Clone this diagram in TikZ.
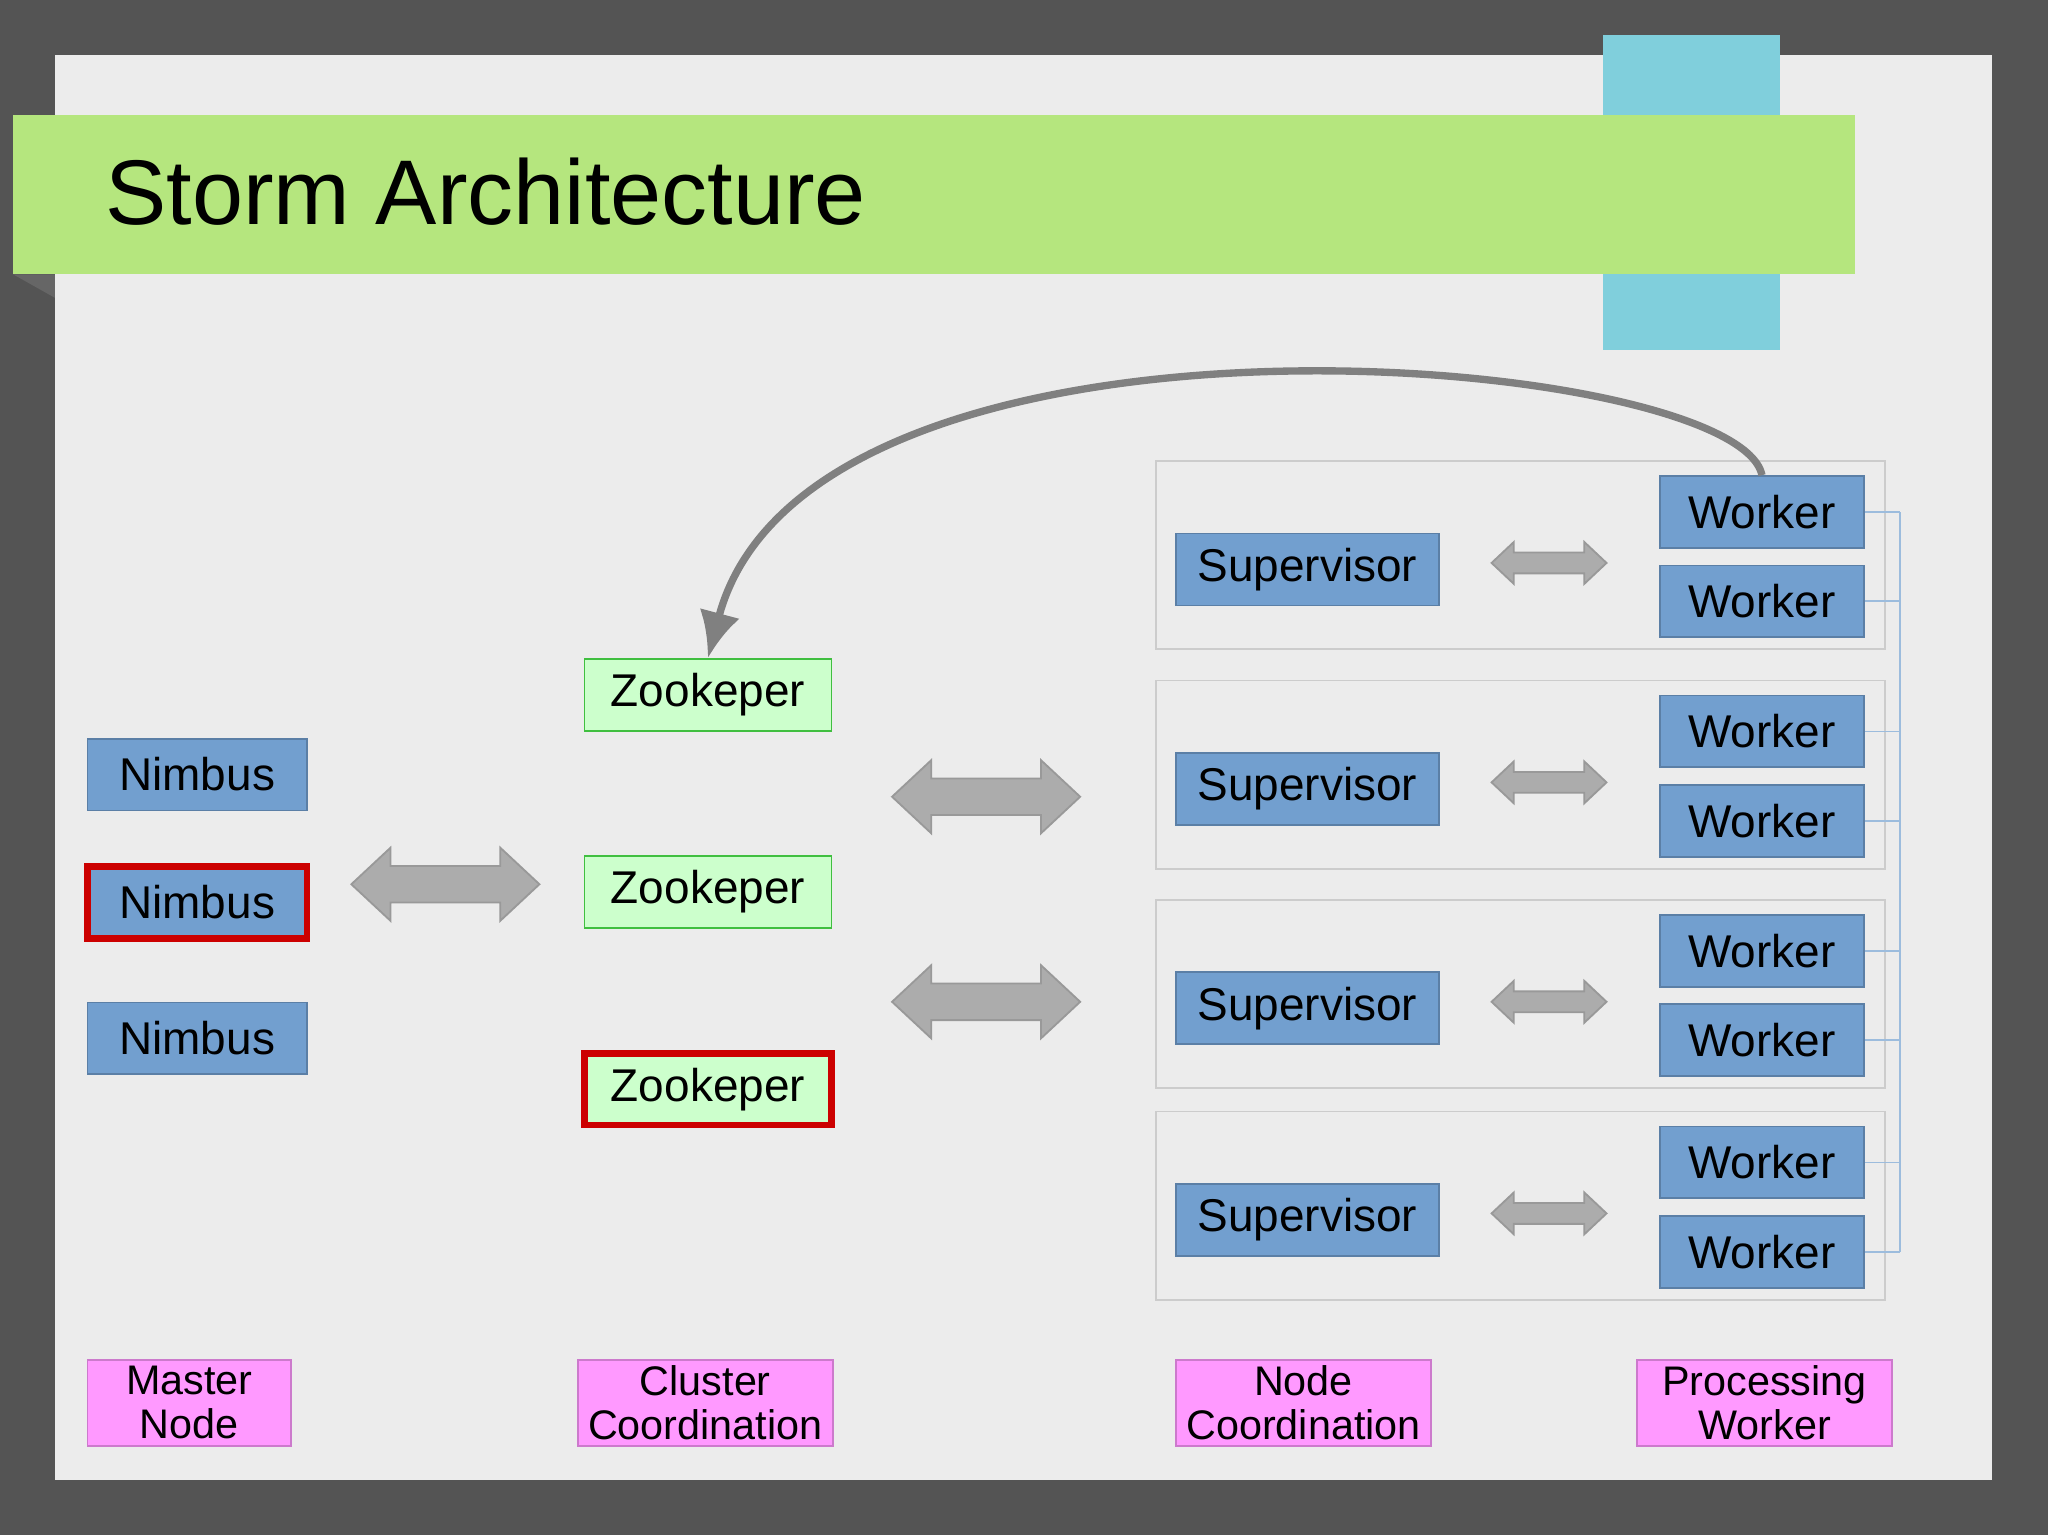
\documentclass[tikz,border=0pt]{standalone}
\usepackage{fontspec}
\setmainfont{Liberation Sans}
\usetikzlibrary{positioning,arrows.meta}
\definecolor{slidebg}{HTML}{ECECEC}
\definecolor{boxblue}{HTML}{729FCF}
\definecolor{zoogreen}{HTML}{CCFFCC}
\definecolor{legpink}{HTML}{FF99FF}
\definecolor{banner}{HTML}{B5E67E}
\definecolor{tab}{HTML}{80CFDC}
% #1 x, #2 y, #3 half length, #4 half height, #5 head length
\newcommand\dblarrow[5]{%
  \filldraw[arrow body] ({#1-#3},#2) -- ({#1-#3+#5},{#2-#4}) -- ({#1-#3+#5},{#2-0.5*#4})
    -- ({#1+#3-#5},{#2-0.5*#4}) -- ({#1+#3-#5},{#2-#4}) -- ({#1+#3},#2)
    -- ({#1+#3-#5},{#2+#4}) -- ({#1+#3-#5},{#2+0.5*#4}) -- ({#1-#3+#5},{#2+0.5*#4})
    -- ({#1-#3+#5},{#2+#4}) -- cycle;}
\begin{document}
\begin{tikzpicture}[x=0.01cm, y=-0.01cm,
  blue box/.style={draw=boxblue!80!black, fill=boxblue, minimum height=0.55cm, inner sep=0pt, font=\fontsize{10}{12}\selectfont},
  zoo/.style={draw=green!50!gray, fill=zoogreen, minimum width=1.89cm, minimum height=0.55cm, inner sep=0pt, font=\fontsize{10}{12}\selectfont},
  leader/.style={draw=red!80!black, line width=1.4pt},
  legend/.style={draw=legpink!80!black, fill=legpink, minimum height=0.66cm, inner sep=0pt, align=center, font=\fontsize{9}{9.5}\selectfont},
  arrow body/.style={draw=gray!80, fill=gray!65},
  group/.style={draw=gray!40, minimum width=5.58cm, minimum height=1.44cm, inner sep=0pt}
]
  % slide
  \fill[black!67] (0,0) rectangle (1568,1175);
  \fill[slidebg] (42,42) rectangle (1525,1133);
  \fill[tab] (1227,27) rectangle (1363,268);
  \fill[black!60] (10,210) -- (42,210) -- (42,228) -- cycle;
  \fill[banner] (10,88) rectangle (1420,210);
  \node[anchor=west, inner sep=0pt, font=\fontsize{20}{24}\selectfont] (title) at (80,147) {Storm Architecture};

  % master nodes
  \node[blue box, minimum width=1.68cm] (n1) at (151,593) {Nimbus};
  \node[blue box, leader, minimum width=1.68cm] (n2) at (151,691) {Nimbus};
  \node[blue box, minimum width=1.68cm] (n3) at (151,795) {Nimbus};

  % zookeeper
  \node[zoo] (z1) at (542,532) {Zookeper};
  \node[zoo] (z2) at (542,683) {Zookeper};
  \node[zoo, leader] (z3) at (542,834) {Zookeper};

  \dblarrow{341}{677}{72}{28}{30}
  \dblarrow{755}{610}{72}{28}{30}
  \dblarrow{755}{767}{72}{28}{30}

  % supervisors and workers
  \coordinate (rail) at (1455,0);
  \foreach \i/\y in {1/425, 2/593, 3/761, 4/923} {
    \node[group] (g\i) at (1164,\y) {};
    \node[blue box, minimum width=2.01cm] (s\i) at (1001,\y+11) {Supervisor};
    \dblarrow{1186}{\y+6}{44}{16}{17}
    \node[blue box, minimum width=1.56cm] (wa\i) at (1349,\y-33) {Worker};
    \node[blue box, minimum width=1.56cm, below=0.12cm of wa\i] (wb\i) {Worker};
    \draw[boxblue!70, thin] (wa\i.east) -- (wa\i.east -| rail);
    \draw[boxblue!70, thin] (wb\i.east) -- (wb\i.east -| rail);
  }
  \draw[boxblue!70, thin] (wa1.east -| rail) -- (wb4.east -| rail);

  \draw[gray, line width=1.6pt, -{Latex[length=10pt, width=9pt]}]
    (wa1.north) .. controls (1330,270) and (620,210) .. (z1.north);

  % legend
  \node[legend, minimum width=1.56cm] (l1) at (145,1074) {Master\\Node};
  \node[legend, minimum width=1.95cm] (l2) at (540,1074) {Cluster\\Coordination};
  \node[legend, minimum width=1.95cm] (l3) at (998,1074) {Node\\Coordination};
  \node[legend, minimum width=1.95cm] (l4) at (1351,1074) {Processing\\Worker};
\end{tikzpicture}
\end{document}
